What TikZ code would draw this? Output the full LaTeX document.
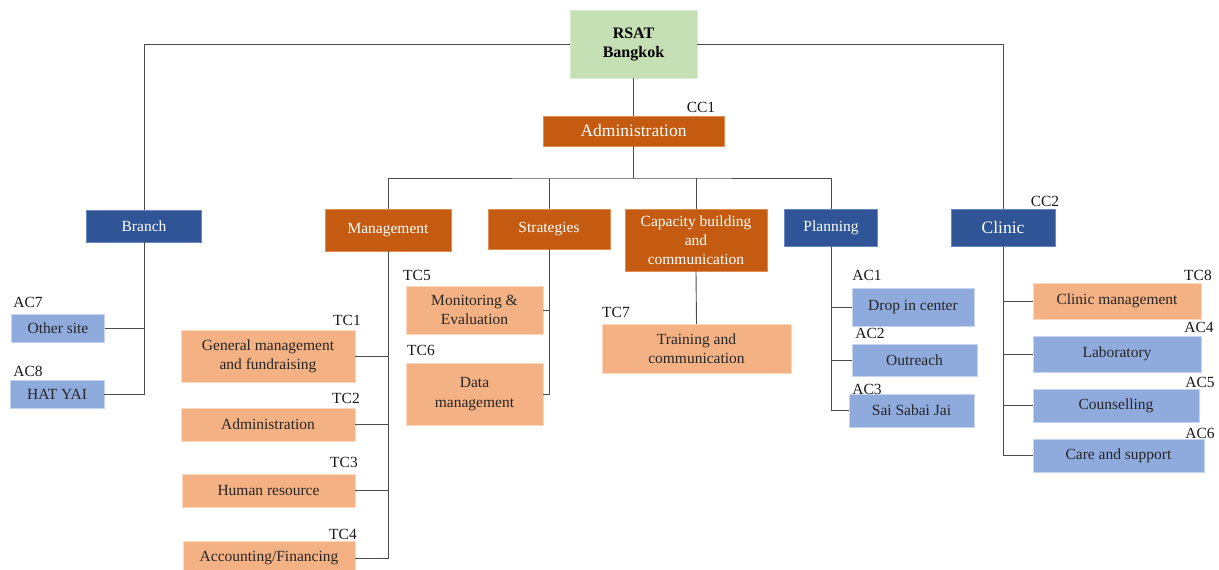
\documentclass[tikz,border=0pt]{standalone}
\usepackage{fontspec}
\setmainfont{Liberation Serif}

\definecolor{rsatgreen}{HTML}{C5E0B4}
\definecolor{darkorange}{HTML}{C55A11}
\definecolor{lightorange}{HTML}{F4B183}
\definecolor{darkblue}{HTML}{2F5597}
\definecolor{lightblue}{HTML}{8FAADC}

\begin{document}
\begin{tikzpicture}[x=1pt, y=-1pt,
            every node/.style={font=\fontsize{15.5}{19.3}\selectfont, inner sep=0pt, align=center},
            boxsize/.style 2 args={minimum width=#1pt, minimum height=#2pt},
            big/.style={font=\fontsize{17.5}{20}\selectfont},
            hq/.style={fill=rsatgreen, draw=rsatgreen!60!white, font=\fontsize{16}{19}\selectfont\bfseries},
            core/.style={fill=darkorange, draw=lightorange!60!darkorange, text=white},
            team/.style={fill=lightorange, draw=lightorange!50!white, text=black!85},
            unit/.style={fill=darkblue, draw=lightblue!60!darkblue, text=white},
            site/.style={fill=lightblue, draw=lightblue!50!white, text=black!85},
            tag/.style={text=black!90},
            link/.style={draw=black!70, line width=0.9pt},
            ]
    \useasboundingbox (0,0) rectangle (1219,570);

    % head office and the two centres
    \node[hq, boxsize={127}{68}] (rsat) at (633.5,44) {RSAT\\Bangkok};
    \node[core, big, boxsize={181}{30}] (cc1) at (633.5,131) {Administration};
    \node[unit, boxsize={115}{32}] (branch) at (144,226) {Branch};
    \node[unit, big, boxsize={104}{37}] (clinic) at (1003,227.5) {Clinic};

    % departments under administration
    \node[core, boxsize={126}{42}] (mgmt) at (388,230) {Management};
    \node[core, boxsize={122}{40}] (strat) at (549,229) {Strategies};
    \node[core, boxsize={142}{62}] (capb) at (696,240) {Capacity building\\and\\communication};
    \node[unit, boxsize={93}{37}] (plan) at (831,227.5) {Planning};

    % branch sites
    \node[site, boxsize={93}{28}] (other) at (58,328) {Other site};
    \node[site, boxsize={94}{28}] (hatyai) at (57,394) {HAT YAI};

    % teams
    \node[team, boxsize={174}{52}] (genmgmt) at (268,356) {General management\\and fundraising};
    \node[team, boxsize={174}{33}] (admin) at (268,424.5) {Administration};
    \node[team, boxsize={173}{33}] (hr) at (268.5,490.5) {Human resource};
    \node[team, boxsize={172}{34}] (acc) at (269,558) {Accounting/Financing};
    \node[team, boxsize={137}{48}] (monev) at (474.5,310) {Monitoring \&\\Evaluation};
    \node[team, boxsize={137}{62}] (datam) at (474.5,394) {Data\\management};
    \node[team, boxsize={189}{49}] (train) at (696.5,348.5) {Training and\\communication};

    % planning activities
    \node[site, boxsize={122}{38}] (dropin) at (913,307) {Drop in center};
    \node[site, boxsize={125}{32}] (outreach) at (914.5,360) {Outreach};
    \node[site, boxsize={125}{33}] (saisabai) at (911.5,410.5) {Sai Sabai Jai};

    % clinic services
    \node[team, boxsize={168}{36}] (clinmgmt) at (1117,301) {Clinic management};
    \node[site, boxsize={168}{36}] (lab) at (1117,354) {Laboratory};
    \node[site, boxsize={166}{33}] (couns) at (1116,405.5) {Counselling};
    \node[site, boxsize={171}{33}] (care) at (1118.5,455.5) {Care and support};

    % codes
    \node[tag] (tcc1) at (701,107) {CC1};
    \node[tag] (tcc2) at (1045,201) {CC2};
    \node[tag] (tac7) at (28,302) {AC7};
    \node[tag] (tac8) at (28,371) {AC8};
    \node[tag] (ttc1) at (347,320) {TC1};
    \node[tag] (ttc2) at (346,398) {TC2};
    \node[tag] (ttc3) at (344,462) {TC3};
    \node[tag] (ttc4) at (343,534) {TC4};
    \node[tag] (ttc5) at (417,275) {TC5};
    \node[tag] (ttc6) at (421,350) {TC6};
    \node[tag] (ttc7) at (616,312) {TC7};
    \node[tag] (tac1) at (867,275) {AC1};
    \node[tag] (tac2) at (870,333) {AC2};
    \node[tag] (tac3) at (867,389) {AC3};
    \node[tag] (ttc8) at (1198,275) {TC8};
    \node[tag] (tac4) at (1199,327) {AC4};
    \node[tag] (tac5) at (1200,382) {AC5};
    \node[tag] (tac6) at (1200,433) {AC6};

    % connectors
    \coordinate (bus) at (633.5,178);
    \draw[link] (rsat.west) -| (branch.north);
    \draw[link] (rsat.east) -| (clinic.north);
    \draw[link] (rsat.south) -- (cc1.north);
    \draw[link] (cc1.south) -- (bus);
    \draw[link] (mgmt.north) |- (bus) -| (plan.north);
    \draw[link] (strat.north) -- (strat.north |- bus);
    \draw[link] (capb.north) -- (capb.north |- bus);

    \draw[link] (branch.south) |- (hatyai.east);
    \draw[link] (other.east) -- (other.east -| branch.south);

    \draw[link] (mgmt.south) |- (acc.east);
    \draw[link] (genmgmt.east) -- (genmgmt.east -| mgmt.south);
    \draw[link] (admin.east) -- (admin.east -| mgmt.south);
    \draw[link] (hr.east) -- (hr.east -| mgmt.south);

    \draw[link] (strat.south) |- (datam.east);
    \draw[link] (monev.east) -- (monev.east -| strat.south);

    \draw[link] (capb.south) -- (train.north);

    \draw[link] (plan.south) |- (saisabai.west);
    \draw[link] (dropin.west) -- (dropin.west -| plan.south);
    \draw[link] (outreach.west) -- (outreach.west -| plan.south);

    \draw[link] (clinic.south) |- (care.west);
    \draw[link] (clinmgmt.west) -- (clinmgmt.west -| clinic.south);
    \draw[link] (lab.west) -- (lab.west -| clinic.south);
    \draw[link] (couns.west) -- (couns.west -| clinic.south);
\end{tikzpicture}
\end{document}
